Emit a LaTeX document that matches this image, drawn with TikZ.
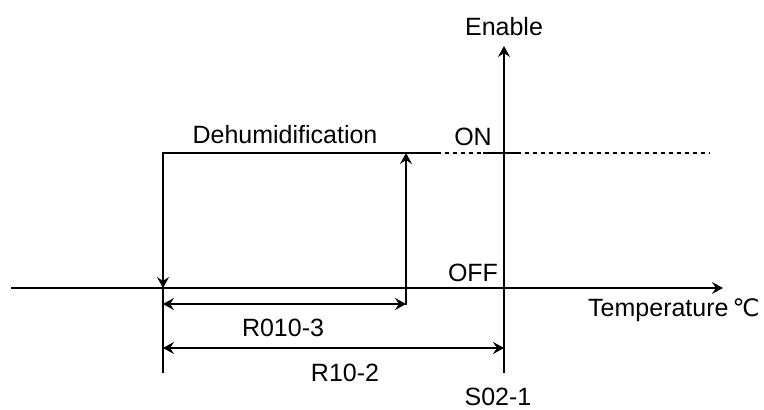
\documentclass[tikz,border=0pt]{standalone}
\usepackage{fontspec}
\setmainfont{Liberation Sans}
\newfontfamily\symfont{DejaVu Sans}
\usetikzlibrary{arrows.meta}
\begin{document}
\begin{tikzpicture}[x=1pt,y=-1pt,
  ln/.style={line width=1.6pt},
  hd/.tip={Stealth[length=11pt,width=12pt,inset=4pt]},
  tip/.style={-hd},
  dim/.style={hd-hd},
  lbl/.style={font=\fontsize{25}{30}\selectfont, inner sep=0pt}]
\useasboundingbox (0,0) rectangle (764,410);
% coordinates
\coordinate (xs) at (11,288);
\coordinate (xe) at (723,288);
\coordinate (ys) at (504,373);
\coordinate (ye) at (504,46);
\coordinate (lt) at (163,153);
\coordinate (lb) at (163,373);
\coordinate (la) at (163,288);
\coordinate (on1) at (437,153);
\coordinate (on2) at (710,153);
\coordinate (ra) at (406,305);
\coordinate (rt) at (406,153);
\coordinate (a1) at (163,304);
\coordinate (a2) at (406,304);
\coordinate (b1) at (163,348);
\coordinate (b2) at (504,348);
\coordinate (s1) at (483,153);
\coordinate (s2) at (518,153);
% axes
\draw[ln,tip] (xs) -- (xe);
\draw[ln,tip] (ys) -- (ye);
% hysteresis
\draw[ln] (lb) -- (lt) -- (on1);
\draw[ln,tip] (lt) -- (la);
\draw[ln,tip] (ra) -- (rt);
\draw[line width=1.6pt, dash pattern=on 4pt off 4pt] (on1) -- (on2);
\draw[ln] (s1) -- (s2);
% dimension arrows
\draw[ln,dim] (a1) -- (a2);
\draw[ln,dim] (b1) -- (b2);
% labels
\node[lbl] (en) at (504,27) {Enable};
\node[lbl] (deh) at (285,135) {Dehumidification};
\node[lbl] (on) at (473,137) {ON};
\node[lbl] (off) at (473,273) {OFF};
\node[lbl,anchor=west] (temp) at (588,310) {Temperature\,{\symfont\fontsize{24}{30}\selectfont ℃}};
\node[lbl] (r3) at (283,328) {R010-3};
\node[lbl] (r2) at (345,373) {R10-2};
\node[lbl] (s) at (498,397) {S02-1};
\end{tikzpicture}
\end{document}
